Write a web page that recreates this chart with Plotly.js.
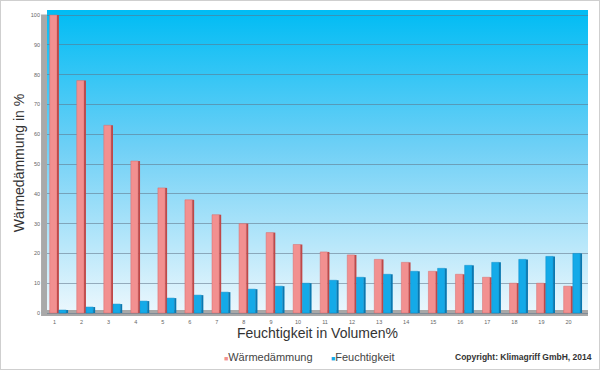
<!DOCTYPE html>
<html>
<head>
<meta charset="utf-8">
<script src="https://cdn.plot.ly/plotly-3.0.1.min.js"></script>
<style>
  html, body { margin: 0; padding: 0; background: #fff; }
  #wrap { position: relative; width: 600px; height: 370px; }
  #chart { width: 600px; height: 370px; }
  #frame { position: absolute; left: 0; top: 0; width: 598px; height: 368px;
           border: 1px solid #cfcfcf; pointer-events: none; }
</style>
</head>
<body>
<div id="wrap"><div id="chart"></div><div id="frame"></div></div>
<script>
const categories = ["1","2","3","4","5","6","7","8","9","10","11","12","13","14","15","16","17","18","19","20"];
const waermedaemmung = [100, 78, 63, 51, 42, 38, 33, 30, 27, 23, 20.5, 19.5, 18, 17, 14, 13, 12, 10, 10, 9];
const feuchtigkeit = [1, 2, 3, 4, 5, 6, 7, 8, 9, 10, 11, 12, 13, 14, 15, 16, 17, 18, 19, 20];
const seriesNames = ["Wärmedämmung", "Feuchtigkeit"];
const seriesColors = ["#f29090", "#14aae8"];
const yTicks = [0, 10, 20, 30, 40, 50, 60, 70, 80, 90, 100];

const FONT = "Liberation Sans, Arial, Helvetica, sans-serif";

const bgSvg = '<svg xmlns="http://www.w3.org/2000/svg" width="10" height="100" preserveAspectRatio="none">' +
  '<defs><linearGradient id="g" x1="0" y1="0" x2="0" y2="1">' +
  '<stop offset="0" stop-color="#00bcf4"/>' +
  '<stop offset="0.45" stop-color="#6fd0f6"/>' +
  '<stop offset="1" stop-color="#eef8fd"/>' +
  '</linearGradient></defs><rect width="10" height="100" fill="url(#g)"/></svg>';
const bgUri = 'data:image/svg+xml;charset=utf-8,' + encodeURIComponent(bgSvg);

const traces = [
  { type: 'bar', x: categories, y: waermedaemmung, name: seriesNames[0],
    offset: -0.40, width: 0.27,
    marker: { color: seriesColors[0], line: { color: '#d86a6a', width: 0.5 } },
    hoverinfo: 'x+y+name' },
  { type: 'bar', x: categories, y: waermedaemmung, name: seriesNames[0] + ' (Seite)',
    offset: -0.13, width: 0.07, showlegend: false,
    marker: { color: '#c04848', line: { width: 0 } }, hoverinfo: 'skip' },
  { type: 'bar', x: categories, y: feuchtigkeit, name: seriesNames[1],
    offset: -0.06, width: 0.27,
    marker: { color: seriesColors[1], line: { color: '#0b8cc8', width: 0.5 } },
    hoverinfo: 'x+y+name' },
  { type: 'bar', x: categories, y: feuchtigkeit, name: seriesNames[1] + ' (Seite)',
    offset: 0.21, width: 0.07, showlegend: false,
    marker: { color: '#0a78b0', line: { width: 0 } }, hoverinfo: 'skip' }
];

function legendText(i) {
  return '<span style="font-size:7px;color:' + seriesColors[i] + '">■</span>' + seriesNames[i];
}

const layout = {
  width: 600, height: 370,
  margin: { l: 47, r: 12, t: 10, b: 54, autoexpand: false },
  paper_bgcolor: '#ffffff',
  plot_bgcolor: 'rgba(0,0,0,0)',
  font: { family: FONT, color: '#333' },
  barmode: 'overlay',
  showlegend: false,
  xaxis: {
    type: 'category',
    range: [-0.5, 19.5],
    showgrid: false, zeroline: false, showline: false,
    ticks: '', ticklabelshift: -6, ticklabelstandoff: 1,
    tickfont: { family: FONT, size: 5.5, color: '#666' },
    title: { text: 'Feuchtigkeit in Volumen%', font: { family: FONT, size: 14, color: '#333' }, standoff: 4 },
    automargin: true,
    fixedrange: true
  },
  yaxis: {
    range: [-1, 101.7],
    tickvals: yTicks,
    ticktext: yTicks.map(String),
    showgrid: true, gridcolor: 'rgba(95,115,135,0.55)', gridwidth: 1,
    zeroline: false, showline: false,
    ticks: '', ticklabelstandoff: 6,
    tickfont: { family: FONT, size: 5.5, color: '#666' },
    title: { text: 'Wärmedämmung in %', font: { family: FONT, size: 14, color: '#333' }, standoff: 2 },
    automargin: true,
    fixedrange: true
  },
  images: [{
    source: bgUri, xref: 'paper', yref: 'paper', x: 0, y: 1, sizex: 1, sizey: 1,
    xanchor: 'left', yanchor: 'top', sizing: 'stretch', layer: 'below'
  }],
  shapes: [
    { type: 'rect', xref: 'paper', yref: 'paper', x0: -0.011, x1: 0, y0: 0.01, y1: 0.985,
      fillcolor: '#a9a9a9', line: { width: 0 }, layer: 'below' },
    { type: 'rect', xref: 'paper', yref: 'y', x0: -0.011, x1: 1, y0: -1, y1: 1,
      fillcolor: '#a8a8a8', line: { width: 0 }, layer: 'below' }
  ],
  annotations: [
    { text: legendText(0), xref: 'paper', yref: 'paper', x: 0.3235, y: -0.134,
      xanchor: 'left', yanchor: 'middle', showarrow: false,
      font: { family: FONT, size: 11, color: '#444' } },
    { text: legendText(1), xref: 'paper', yref: 'paper', x: 0.521, y: -0.134,
      xanchor: 'left', yanchor: 'middle', showarrow: false,
      font: { family: FONT, size: 11, color: '#444' } },
    { text: '<b>Copyright: Klimagriff GmbH, 2014</b>',
      xref: 'paper', yref: 'paper', x: 1.011, y: -0.134, xanchor: 'right', yanchor: 'middle',
      showarrow: false, font: { family: FONT, size: 8.5, color: '#333' } }
  ]
};

Plotly.newPlot('chart', traces, layout, { displayModeBar: false, staticPlot: true });
</script>
</body>
</html>
